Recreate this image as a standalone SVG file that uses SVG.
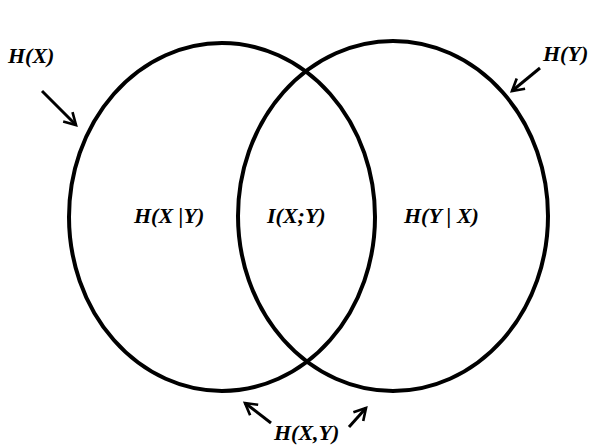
<svg xmlns="http://www.w3.org/2000/svg" width="592" height="446" viewBox="0 0 592 446">
<style>
.t{font-family:"Liberation Serif","DejaVu Serif",serif;font-style:italic;font-weight:bold;font-size:22px;fill:#000}
.c{fill:none;stroke:#000;stroke-width:4}
.a{fill:none;stroke:#000;stroke-width:3}
</style>
<defs>
<marker id="ah" viewBox="0 0 10 10" refX="8" refY="5" markerWidth="5.5" markerHeight="5.5" orient="auto" markerUnits="strokeWidth">
<path d="M1,1 L8,5 L1,9" fill="none" stroke="#000" stroke-width="1.6"/>
</marker>
</defs>
<rect width="592" height="446" fill="#fff"/>
<g id="setX"><ellipse class="c" cx="222" cy="217" rx="153" ry="174"/></g>
<g id="setY"><ellipse class="c" cx="393" cy="216" rx="155" ry="175"/></g>
<g id="connectors">
<line class="a" x1="42" y1="91" x2="76" y2="125" marker-end="url(#ah)"/>
<line class="a" x1="540" y1="68" x2="512" y2="91" marker-end="url(#ah)"/>
<line class="a" x1="271" y1="423" x2="245" y2="403" marker-end="url(#ah)"/>
<line class="a" x1="349" y1="427" x2="366" y2="408" marker-end="url(#ah)"/>
</g>
<g id="lblHX"><text class="t" x="8" y="63">H(X)</text></g>
<g id="lblHY"><text class="t" x="543" y="61">H(Y)</text></g>
<g id="lblHXgY"><text class="t" x="134" y="223">H(X |Y)</text></g>
<g id="lblI"><text class="t" x="267" y="223">I(X;Y)</text></g>
<g id="lblHYgX"><text class="t" x="404" y="223">H(Y | X)</text></g>
<g id="lblHXY"><text class="t" x="274" y="440">H(X,Y)</text></g>
</svg>
